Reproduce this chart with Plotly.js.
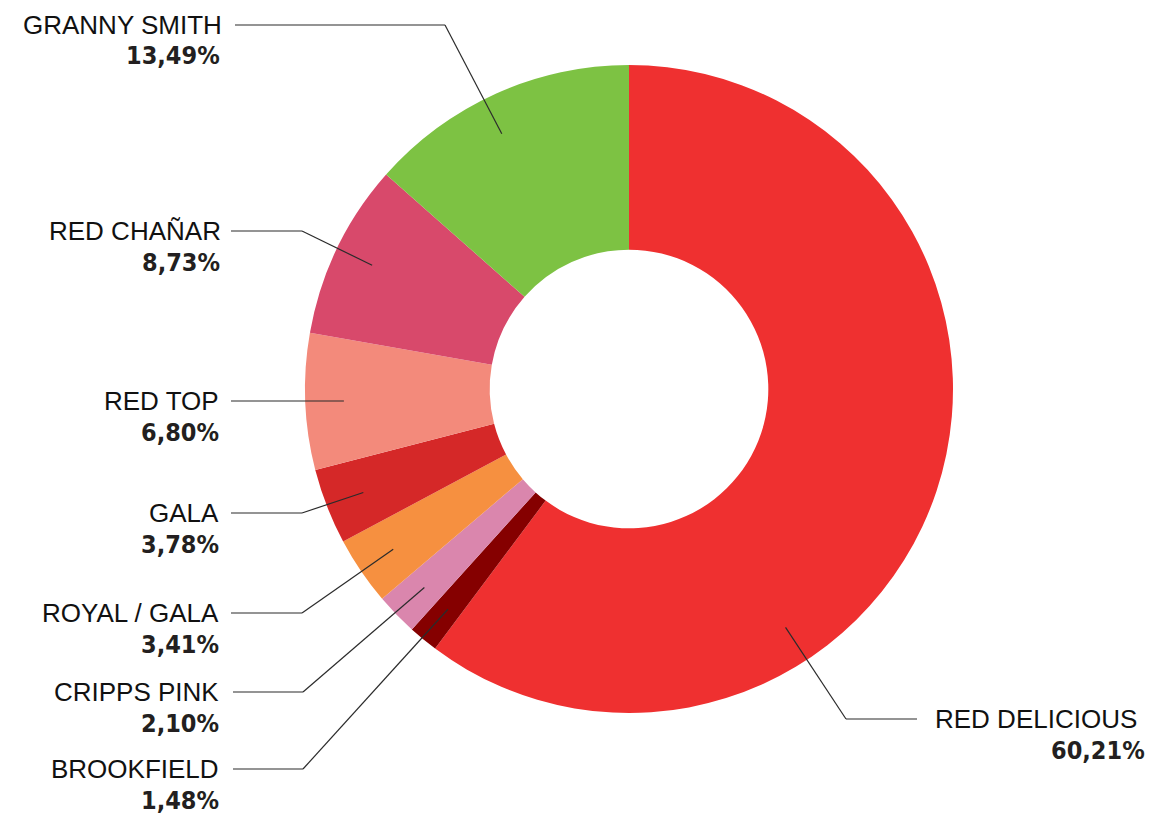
<!DOCTYPE html>
<html><head><meta charset="utf-8">
<script src="https://cdn.plot.ly/plotly-3.0.1.min.js"></script>
<style>html,body{margin:0;padding:0;background:#fff}#chart{width:1153px;height:816px}</style>
</head><body><div id="chart"></div>
<script>
// ---- data ----
const varieties = ["RED DELICIOUS","BROOKFIELD","CRIPPS PINK","ROYAL / GALA","GALA","RED TOP","RED CHAÑAR","GRANNY SMITH"];
const shares = [60.21, 1.48, 2.10, 3.41, 3.78, 6.80, 8.73, 13.49];
const sliceColors = ["#EF3030","#850000","#DA86AD","#F69040","#D52828","#F38A7B","#D8496B","#7DC243"];

// ---- layout geometry (pixels) ----
const W = 1153, H = 816;
const CX = 629, CY = 389, R = 324, HOLE = 0.43;
const ANCHOR_R = 0.88;
const LINE_GAP = 31;
const labelCfg = [
  {side:"right", textX:1139, pctX:1147, textY:719, elbowX:846, lineEnd:917, angle:146.7},
  {side:"left", textX:221, pctX:221, textY:769, elbowX:303, lineEnd:233},
  {side:"left", textX:221, pctX:221, textY:692, elbowX:303, lineEnd:233},
  {side:"left", textX:221, pctX:221, textY:613, elbowX:302, lineEnd:231},
  {side:"left", textX:221, pctX:221, textY:513, elbowX:302, lineEnd:231},
  {side:"left", textX:221, pctX:221, textY:401, elbowX:null, lineEnd:231, angle:270},
  {side:"left", textX:223, pctX:222, textY:231, elbowX:302, lineEnd:231},
  {side:"left", textX:224, pctX:222, textY:25, elbowX:445, lineEnd:235, angle:333.5}
];

const px = x => x / W;
const py = y => 1 - y / H;

const trace = {
  type: "pie",
  labels: varieties,
  values: shares,
  sort: false,
  direction: "clockwise",
  rotation: 0,
  hole: HOLE,
  marker: {colors: sliceColors, line: {width: 0}},
  textinfo: "none",
  hoverinfo: "label+percent",
  showlegend: false,
  domain: {x: [px(CX - R), px(CX + R)], y: [py(CY + R), py(CY - R)]}
};

const total = shares.reduce((a, b) => a + b, 0);
const annotations = [];
const shapes = [];
let cum = 0;
shares.forEach((v, i) => {
  const cfg = labelCfg[i];
  const mid = (cum + v / 2) / total * 360;
  cum += v;
  const ang = (cfg.angle !== undefined ? cfg.angle : mid) * Math.PI / 180;
  const ax = CX + ANCHOR_R * R * Math.sin(ang);
  const ay = cfg.elbowX === null ? cfg.textY : CY - ANCHOR_R * R * Math.cos(ang);
  const y = cfg.textY;
  const pct = v.toFixed(2).replace(".", ",") + "%";
  annotations.push({
    xref: "paper", yref: "paper", x: px(cfg.textX), y: py(y),
    xanchor: "right", yanchor: "middle", showarrow: false,
    text: varieties[i],
    font: {family: "Liberation Sans, Arial, sans-serif", size: 26, color: "#111111"}
  });
  annotations.push({
    xref: "paper", yref: "paper", x: px(cfg.pctX), y: py(y + LINE_GAP),
    xanchor: "right", yanchor: "middle", showarrow: false,
    text: "<b>" + pct + "</b>",
    font: {family: "DejaVu Sans Condensed, DejaVu Sans, sans-serif", size: 25, color: "#231F20", weight: 700}
  });
  const line = {type: "line", xref: "paper", yref: "paper", line: {color: "#2b2b2b", width: 1.2}};
  if (cfg.elbowX === null) {
    shapes.push(Object.assign({}, line, {x0: px(cfg.lineEnd), y0: py(y), x1: px(ax), y1: py(ay)}));
  } else {
    shapes.push(Object.assign({}, line, {x0: px(cfg.lineEnd), y0: py(y), x1: px(cfg.elbowX), y1: py(y)}));
    shapes.push(Object.assign({}, line, {x0: px(cfg.elbowX), y0: py(y), x1: px(ax), y1: py(ay)}));
  }
});

const layout = {
  width: W, height: H,
  margin: {l: 0, r: 0, t: 0, b: 0},
  paper_bgcolor: "#ffffff",
  plot_bgcolor: "#ffffff",
  annotations: annotations,
  shapes: shapes,
  showlegend: false
};

Plotly.newPlot("chart", [trace], layout, {displayModeBar: false, staticPlot: true});
</script>
</body></html>
